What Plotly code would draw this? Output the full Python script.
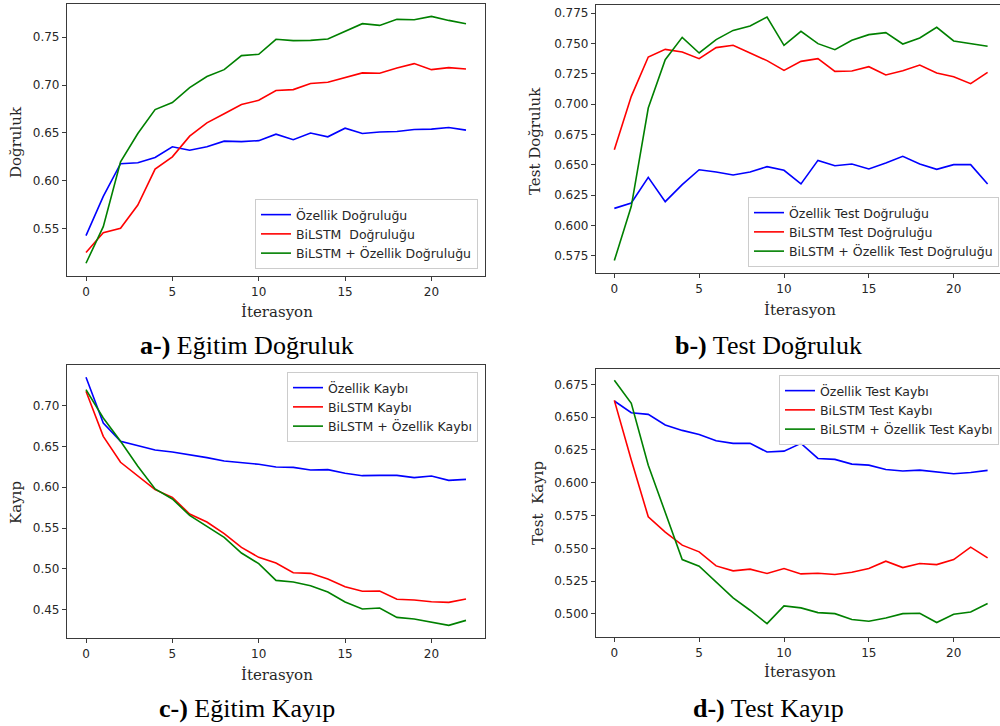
import plotly.graph_objects as go

iterations = list(range(23))

# a) training accuracy
a_ozellik = [0.543, 0.584, 0.618, 0.619, 0.6245, 0.6356, 0.632, 0.6356, 0.6415, 0.641, 0.642, 0.6488,
             0.643, 0.650, 0.646, 0.655, 0.6495, 0.651, 0.6516, 0.6536, 0.654, 0.6557, 0.653]
a_bilstm = [0.5254, 0.546, 0.5507, 0.575, 0.6124, 0.6252, 0.6467, 0.6606, 0.670, 0.6796, 0.6841, 0.6942,
            0.6952, 0.7015, 0.7029, 0.7077, 0.7126, 0.7122, 0.7178, 0.7223, 0.716, 0.7181, 0.7167]
a_both = [0.5143, 0.5524, 0.620, 0.6495, 0.6744, 0.6817, 0.6973, 0.7088, 0.716, 0.7306, 0.732, 0.7476,
          0.7462, 0.7465, 0.7479, 0.7562, 0.7639, 0.7621, 0.7684, 0.768, 0.7715, 0.7673, 0.7639]

# b) test accuracy
b_ozellik = [0.6142, 0.6186, 0.6397, 0.6197, 0.6337, 0.646, 0.6441, 0.6417, 0.6441, 0.6485, 0.6455, 0.6343,
             0.6537, 0.6493, 0.6507, 0.6466, 0.6515, 0.657, 0.6507, 0.6463, 0.6502, 0.6502, 0.6343]
b_bilstm = [0.6625, 0.7064, 0.7388, 0.7451, 0.7429, 0.7374, 0.7465, 0.7484, 0.7421, 0.7358, 0.7278, 0.7352,
            0.7374, 0.727, 0.7273, 0.7308, 0.724, 0.7275, 0.7322, 0.7256, 0.7226, 0.7168, 0.7262]
b_both = [0.5712, 0.6159, 0.6968, 0.7366, 0.755, 0.7421, 0.7531, 0.7607, 0.7643, 0.7717, 0.7484, 0.7599,
          0.7498, 0.7448, 0.7525, 0.7572, 0.7588, 0.7495, 0.7544, 0.7632, 0.752, 0.7495, 0.7476]

# c) training loss
c_ozellik = [0.7347, 0.6788, 0.6563, 0.651, 0.6457, 0.6432, 0.640, 0.6363, 0.6322, 0.6306, 0.6281, 0.6248,
             0.6244, 0.6212, 0.6216, 0.6171, 0.6142, 0.6146, 0.6146, 0.6118, 0.6138, 0.6085, 0.6097]
c_bilstm = [0.7176, 0.6624, 0.6306, 0.6134, 0.5971, 0.5877, 0.5672, 0.5574, 0.5431, 0.5264, 0.5141, 0.5072,
            0.4953, 0.4945, 0.4876, 0.4782, 0.4725, 0.4729, 0.4627, 0.4618, 0.4598, 0.459, 0.4631]
c_both = [0.7196, 0.6849, 0.6563, 0.6257, 0.5979, 0.5856, 0.5656, 0.5521, 0.5386, 0.5194, 0.5064, 0.4859,
          0.4839, 0.4794, 0.4717, 0.4594, 0.4508, 0.452, 0.4406, 0.4386, 0.4345, 0.4308, 0.4369]

# d) test loss
d_ozellik = [0.6623, 0.6534, 0.6521, 0.644, 0.6399, 0.6368, 0.632, 0.630, 0.630, 0.6234, 0.6241, 0.630,
             0.6185, 0.6178, 0.6142, 0.6134, 0.6101, 0.6089, 0.6096, 0.6081, 0.6068, 0.6078, 0.6094]
d_bilstm = [0.6628, 0.6173, 0.574, 0.5623, 0.5524, 0.5473, 0.5366, 0.5328, 0.5341, 0.5308, 0.5346, 0.5305,
            0.531, 0.530, 0.5318, 0.5346, 0.5402, 0.5353, 0.5384, 0.5376, 0.5414, 0.5509, 0.5427]
d_both = [0.6781, 0.6605, 0.6134, 0.5778, 0.5414, 0.5364, 0.5244, 0.5122, 0.5028, 0.4926, 0.5061, 0.5046,
          0.501, 0.5002, 0.4957, 0.4944, 0.4969, 0.5002, 0.5005, 0.4934, 0.4997, 0.5015, 0.5079]

names_a = ["Özellik Doğruluğu", "BiLSTM  Doğruluğu", "BiLSTM + Özellik Doğruluğu"]
names_b = ["Özellik Test Doğruluğu", "BiLSTM Test Doğruluğu", "BiLSTM + Özellik Test Doğruluğu"]
names_c = ["Özellik Kaybı", "BiLSTM Kaybı", "BiLSTM + Özellik Kaybı"]
names_d = ["Özellik Test Kaybı", "BiLSTM Test Kaybı", "BiLSTM + Özellik Test Kaybı"]

x_ticks = [0, 5, 10, 15, 20]
ticks_a = [0.55, 0.60, 0.65, 0.70, 0.75]
ticks_b = [0.575, 0.600, 0.625, 0.650, 0.675, 0.700, 0.725, 0.750, 0.775]
ticks_c = [0.45, 0.50, 0.55, 0.60, 0.65, 0.70]
ticks_d = [0.500, 0.525, 0.550, 0.575, 0.600, 0.625, 0.650, 0.675]

COLORS = ["#0000ff", "#ff0000", "#008000"]
W, H = 1000, 726
SPINE = "#3a3a3a"
TICKFONT = dict(family="DejaVu Sans", size=12, color="#262626")
LEGFONT = dict(family="DejaVu Sans", size=12.5, color="#262626")

fig = go.Figure()

panels = [
    ("x", "y", "legend", [a_ozellik, a_bilstm, a_both], names_a),
    ("x2", "y2", "legend2", [b_ozellik, b_bilstm, b_both], names_b),
    ("x3", "y3", "legend3", [c_ozellik, c_bilstm, c_both], names_c),
    ("x4", "y4", "legend4", [d_ozellik, d_bilstm, d_both], names_d),
]
for xa, ya, lg, series, names in panels:
    for s, n, c in zip(series, names, COLORS):
        fig.add_trace(go.Scatter(x=iterations, y=s, name=n, mode="lines", xaxis=xa, yaxis=ya,
                                 legend=lg, line=dict(color=c, width=1.6)))


def px(v):
    return v / W


def py(v):
    return 1 - v / H


def xaxis(dom, rng):
    return dict(domain=dom, range=rng, tickvals=x_ticks, showgrid=False, zeroline=False,
                showline=True, mirror=True, linecolor=SPINE, linewidth=1.2,
                ticks="outside", ticklen=4, tickcolor=SPINE, tickfont=TICKFONT)


def yaxis(dom, rng, vals, fmt, anchor):
    return dict(domain=dom, range=rng, tickvals=vals, tickformat=fmt, showgrid=False, zeroline=False,
                showline=True, mirror=True, linecolor=SPINE, linewidth=1.2, anchor=anchor,
                ticks="outside", ticklen=4, tickcolor=SPINE, tickfont=TICKFONT)


fig.update_layout(
    width=W, height=H, margin=dict(l=0, r=0, t=0, b=0),
    paper_bgcolor="white", plot_bgcolor="white", showlegend=True,
    xaxis=xaxis([px(67), px(485)], [-1.1, 23.1]) | dict(anchor="y"),
    yaxis=yaxis([py(276), py(4)], [0.501, 0.7844], ticks_a, ".2f", "x"),
    xaxis2=xaxis([px(596), 1.0], [-1.08, 22.73]) | dict(anchor="y2"),
    yaxis2=yaxis([py(273), py(5)], [0.561, 0.7816], ticks_b, ".3f", "x2"),
    xaxis3=xaxis([px(67), px(485)], [-1.1, 23.1]) | dict(anchor="y3"),
    yaxis3=yaxis([py(638), py(365)], [0.4153, 0.7498], ticks_c, ".2f", "x3"),
    xaxis4=xaxis([px(596), 1.0], [-1.08, 22.73]) | dict(anchor="y4"),
    yaxis4=yaxis([py(637), py(369)], [0.4824, 0.6867], ticks_d, ".3f", "x4"),
)

leg_common = dict(bgcolor="rgba(255,255,255,0.9)", bordercolor="#cccccc", borderwidth=1,
                  font=LEGFONT, xanchor="right", tracegroupgap=0)
fig.update_layout(
    legend=leg_common | dict(x=px(478), y=py(269), yanchor="bottom"),
    legend2=leg_common | dict(x=px(999), y=py(267), yanchor="bottom"),
    legend3=leg_common | dict(x=px(478), y=py(372), yanchor="top"),
    legend4=leg_common | dict(x=px(999), y=py(375), yanchor="top"),
)

LBL = dict(family="DejaVu Serif", size=15, color="#262626")
CAP = dict(family="Liberation Serif", size=26, color="black")


def ann(text, x, y, font, angle=0):
    fig.add_annotation(text=text, x=px(x), y=py(y), xref="paper", yref="paper", showarrow=False,
                       xanchor="center", yanchor="middle", font=font, textangle=angle)


ann("Doğruluk", 16, 142, LBL, -90)
ann("İterasyon", 277, 312, LBL)
ann("Test Doğruluk", 535, 141, LBL, -90)
ann("İterasyon", 800, 310, LBL)
ann("Kayıp", 16, 503, LBL, -90)
ann("İterasyon", 277, 675, LBL)
ann("Test  Kayıp", 538, 503, LBL, -90)
ann("İterasyon", 800, 672, LBL)

ann("<b>a-)</b> Eğitim Doğruluk", 247, 345, CAP)
ann("<b>b-)</b> Test Doğruluk", 768, 345, CAP)
ann("<b>c-)</b> Eğitim Kayıp", 247, 708, CAP)
ann("<b>d-)</b> Test Kayıp", 768, 708, CAP)

fig.write_html("out.html", config={"displayModeBar": False},
               post_script="document.body.style.margin='0';document.body.style.overflow='hidden';")
